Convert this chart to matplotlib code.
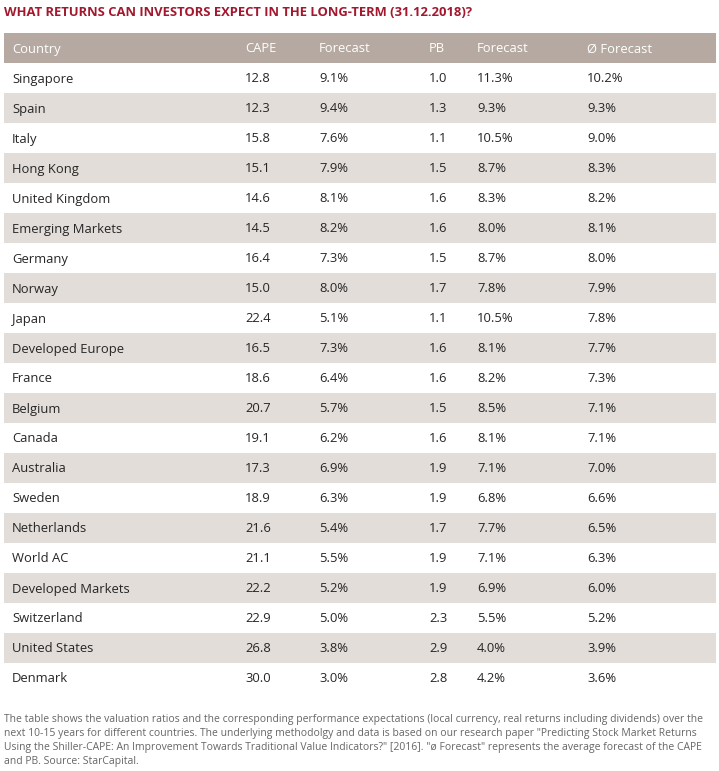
import matplotlib.pyplot as plt
from matplotlib.patches import Rectangle

# datos de la tabla
paises = ["Singapore", "Spain", "Italy", "Hong Kong", "United Kingdom",
          "Emerging Markets", "Germany", "Norway", "Japan", "Developed Europe",
          "France", "Belgium", "Canada", "Australia", "Sweden", "Netherlands",
          "World AC", "Developed Markets", "Switzerland", "United States", "Denmark"]
cape = [12.8, 12.3, 15.8, 15.1, 14.6, 14.5, 16.4, 15.0, 22.4, 16.5,
        18.6, 20.7, 19.1, 17.3, 18.9, 21.6, 21.1, 22.2, 22.9, 26.8, 30.0]
cape_fc = [9.1, 9.4, 7.6, 7.9, 8.1, 8.2, 7.3, 8.0, 5.1, 7.3,
           6.4, 5.7, 6.2, 6.9, 6.3, 5.4, 5.5, 5.2, 5.0, 3.8, 3.0]
pb = [1.0, 1.3, 1.1, 1.5, 1.6, 1.6, 1.5, 1.7, 1.1, 1.6,
      1.6, 1.5, 1.6, 1.9, 1.9, 1.7, 1.9, 1.9, 2.3, 2.9, 2.8]
pb_fc = [11.3, 9.3, 10.5, 8.7, 8.3, 8.0, 8.7, 7.8, 10.5, 8.1,
         8.2, 8.5, 8.1, 7.1, 6.8, 7.7, 7.1, 6.9, 5.5, 4.0, 4.2]
prom_fc = [10.2, 9.3, 9.0, 8.3, 8.2, 8.1, 8.0, 7.9, 7.8, 7.7,
           7.3, 7.1, 7.1, 7.0, 6.6, 6.5, 6.3, 6.0, 5.2, 3.9, 3.6]
encabezados = ["Country", "CAPE", "Forecast", "PB", "Forecast", "Ø Forecast"]

titulo = "WHAT RETURNS CAN INVESTORS EXPECT IN THE LONG-TERM (31.12.2018)?"
nota = ("The table shows the valuation ratios and the corresponding performance expectations (local currency, real returns including dividends) over the\n"
        "next 10-15 years for different countries. The underlying methodolgy and data is based on our research paper \"Predicting Stock Market Returns\n"
        "Using the Shiller-CAPE: An Improvement Towards Traditional Value Indicators?\" [2016]. \"ø Forecast\" represents the average forecast of the CAPE\n"
        "and PB. Source: StarCapital.")

plt.rcParams['font.family'] = ['Open Sans', 'DejaVu Sans']

W, H = 719, 771
fig = plt.figure(figsize=(W / 100, H / 100), dpi=100)
ax = fig.add_axes([0, 0, 1, 1])
ax.set_xlim(0, W)
ax.set_ylim(H, 0)
ax.axis('off')

col_x = [12, 245, 319, 429, 477, 587]
izq, der = 4, 716
y_enc, alto = 33, 30
texto_color = '#262626'

# titulo
ax.text(4, 12, titulo, color='#a3182e', fontsize=9.4, fontweight='bold', va='center', ha='left')

# encabezado
ax.add_patch(Rectangle((izq, y_enc), der - izq, alto, color='#b5a9a1', lw=0))
for x, t in zip(col_x, encabezados):
    ax.text(x, y_enc + alto / 2 + 1, t, color='white', fontsize=9.4, va='center', ha='left')

# filas
for i, p in enumerate(paises):
    y0 = y_enc + alto * (i + 1)
    if i % 2 == 1:
        ax.add_patch(Rectangle((izq, y0), der - izq, alto, color='#e2ddd9', lw=0))
    valores = [p, f"{cape[i]:.1f}", f"{cape_fc[i]:.1f}%", f"{pb[i]:.1f}",
               f"{pb_fc[i]:.1f}%", f"{prom_fc[i]:.1f}%"]
    for x, t in zip(col_x, valores):
        ax.text(x, y0 + alto / 2 + 1, t, color=texto_color, fontsize=9.4, va='center', ha='left')

# nota al pie
ax.text(4, 714, nota, color='#666666', fontsize=7.5, va='top', ha='left', linespacing=1.38)

fig.savefig('out.png', dpi=100)
